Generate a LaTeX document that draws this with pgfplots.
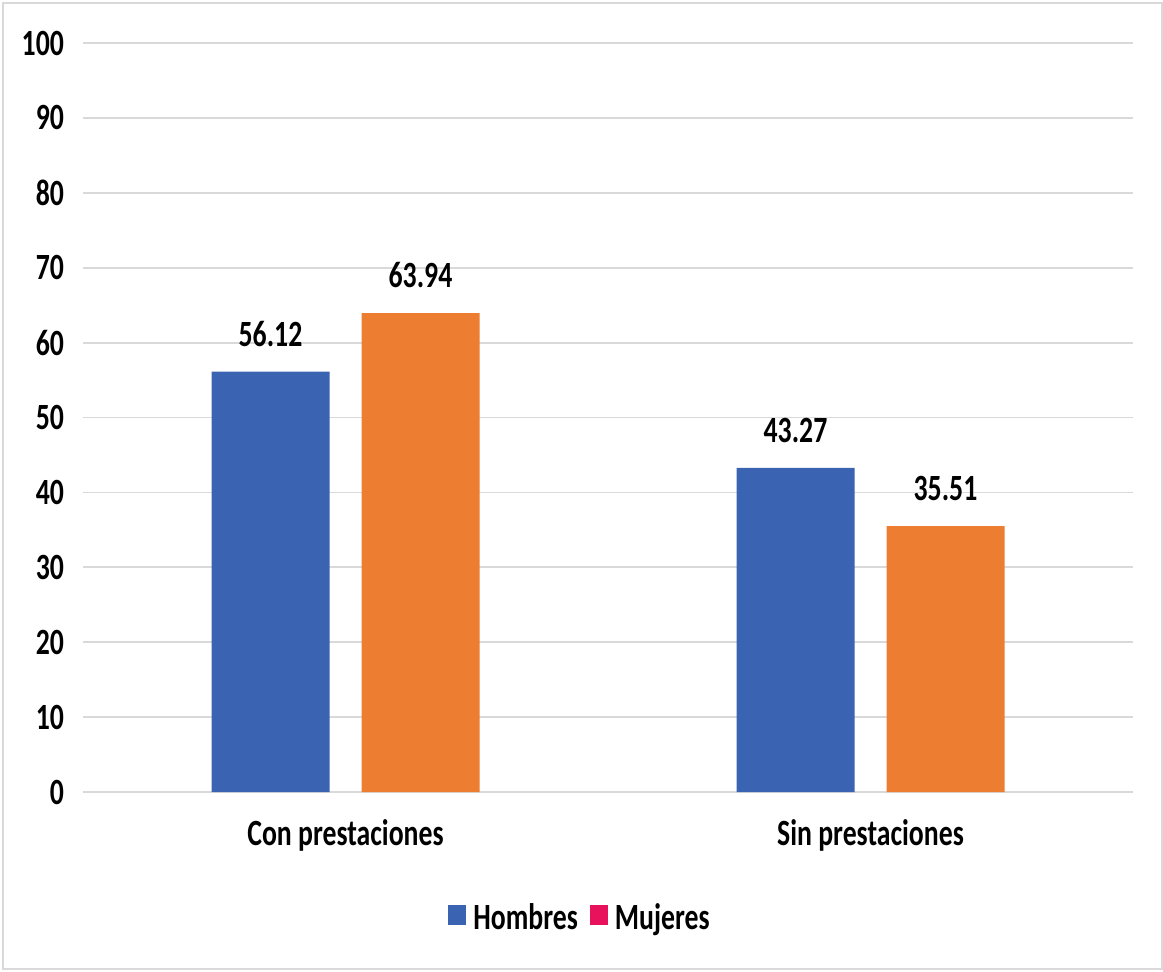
\documentclass[border=0pt]{standalone}
\usepackage{pgfplots}
\pgfplotsset{compat=1.18}
\usepackage{fontspec}
\setmainfont{Carlito}[FakeStretch=0.75]
\definecolor{hblue}{HTML}{3A64B2}
\definecolor{morange}{HTML}{ED7D31}
\definecolor{mpink}{HTML}{E8125C}
\definecolor{gridgray}{HTML}{D9D9D9}
\begin{document}
\begin{tikzpicture}
\useasboundingbox (0,0) rectangle (581.5pt,485.5pt);
\fill[white] (0,0) rectangle (581.5pt,485.5pt);
\draw[gridgray,line width=1pt] (1.5pt,1pt) rectangle (581pt,484pt);
\begin{axis}[
  at={(41.5pt,89.5pt)}, anchor=south west,
  scale only axis, width=525pt, height=374.5pt,
  ybar, bar width=59pt,
  xmin=-0.5, xmax=1.5, ymin=0, ymax=100,
  xtick={0,1}, xticklabels={Con prestaciones,Sin prestaciones},
  ytick={0,10,...,100},
  ymajorgrids, grid style={gridgray,line width=0.9pt},
  axis line style={draw=none},
  major tick length=0pt,
  tick style={draw=none},
  /pgf/number format/assume math mode=true,
  font=\fontsize{18.5pt}{20pt}\selectfont\bfseries,
  tick label style={font=\fontsize{18.5pt}{20pt}\selectfont\bfseries},
  yticklabel style={xshift=-6pt},
  xticklabel style={yshift=-10pt},
  nodes near coords,
  nodes near coords style={font=\fontsize{18.5pt}{20pt}\selectfont\bfseries, yshift=9pt,
    /pgf/number format/.cd, fixed, fixed zerofill, precision=2, assume math mode=true},
  legend style={at={(0.5,0)}, anchor=center, yshift=-63pt, xshift=-13.5pt,
    draw=none, fill=none,
    /tikz/every odd column/.append style={column sep=1.5pt},
    /tikz/every even column/.append style={column sep=4pt},
    font=\fontsize{18.5pt}{20pt}\selectfont\bfseries},
  legend columns=2,
  legend image code/.code={\fill[#1,draw=none] (0pt,-3.5pt) rectangle (9pt,6.5pt);},
]
\addplot[fill=hblue, draw=none, forget plot, bar shift=-37.5pt] coordinates {(0,56.12) (1,43.27)};
\addplot[fill=morange, draw=none, forget plot, bar shift=37.5pt] coordinates {(0,63.94) (1,35.51)};
\addlegendimage{fill=hblue,draw=none}
\addlegendentry{Hombres}
\addlegendimage{fill=mpink,draw=none}
\addlegendentry{Mujeres}
\end{axis}
\end{tikzpicture}
\end{document}
